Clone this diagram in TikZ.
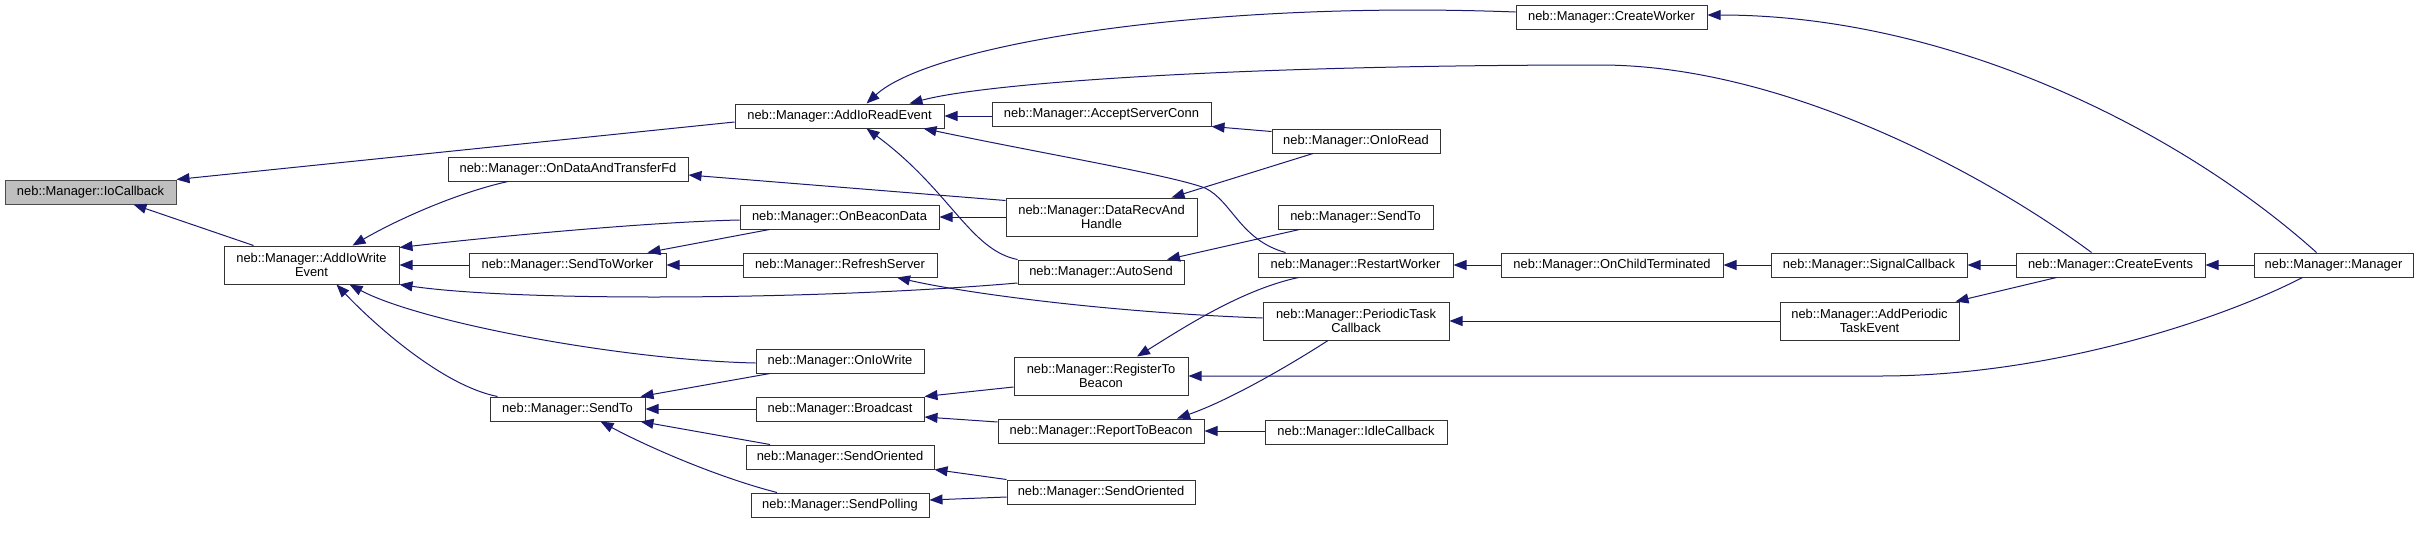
\documentclass[tikz,border=0pt]{standalone}
\usepackage{fontspec}
\setmainfont{Liberation Sans}
\usepackage{tikz}
\usetikzlibrary{arrows.meta,calc}

\definecolor{edgeblue}{HTML}{191970}
\definecolor{rootgray}{HTML}{BFBFBF}

\begin{document}
\begin{tikzpicture}[x=1pt, y=-1pt,
    fn/.style={draw=black!80, fill=white, line width=1pt, inner sep=0pt,
        minimum height=24pt, align=center,
        font=\fontsize{12.9}{14.2}\selectfont},
    fn2/.style={fn, minimum height=38pt},
    root/.style={fn, fill=rootgray, draw=black!70},
    call/.style={draw=edgeblue, line width=1pt,
        {Triangle[length=13pt, width=10pt]}-}]
    \useasboundingbox (0,0) rectangle (2419,552);

    % Column 1 and 2
    \node[root, minimum width=171pt] (ioCallback) at (90.5,192) {neb::Manager::IoCallback};
    \node[fn2, minimum width=175pt] (addIoWrite) at (311.5,265) {neb::Manager::AddIoWrite\\Event};

    % Column 3
    \node[fn, minimum width=240pt] (onDataFd) at (568,169) {neb::Manager::OnDataAndTransferFd};
    \node[fn, minimum width=197pt] (sendToWorker) at (567.5,265) {neb::Manager::SendToWorker};
    \node[fn, minimum width=155pt] (sendToA) at (567.5,409) {neb::Manager::SendTo};

    % Column 4
    \node[fn, minimum width=209pt] (addIoRead) at (839.5,116) {neb::Manager::AddIoReadEvent};
    \node[fn, minimum width=199pt] (onBeaconData) at (839.5,217) {neb::Manager::OnBeaconData};
    \node[fn, minimum width=194pt] (refreshServer) at (840,265) {neb::Manager::RefreshServer};
    \node[fn, minimum width=168pt] (onIoWrite) at (840,361) {neb::Manager::OnIoWrite};
    \node[fn, minimum width=168pt] (broadcast) at (840,409) {neb::Manager::Broadcast};
    \node[fn, minimum width=188pt] (sendOrientedA) at (840,457) {neb::Manager::SendOriented};
    \node[fn, minimum width=178pt] (sendPolling) at (840,505) {neb::Manager::SendPolling};

    % Column 5
    \node[fn, minimum width=219pt] (acceptConn) at (1101.5,114) {neb::Manager::AcceptServerConn};
    \node[fn2, minimum width=191pt] (dataRecv) at (1101.5,217) {neb::Manager::DataRecvAnd\\Handle};
    \node[fn, minimum width=166pt] (autoSend) at (1101,272) {neb::Manager::AutoSend};
    \node[fn2, minimum width=174pt] (registerBeacon) at (1101,376) {neb::Manager::RegisterTo\\Beacon};
    \node[fn, minimum width=206pt] (reportBeacon) at (1101,431) {neb::Manager::ReportToBeacon};
    \node[fn, minimum width=188pt] (sendOrientedB) at (1101,492) {neb::Manager::SendOriented};

    % Column 6
    \node[fn, minimum width=168pt] (onIoRead) at (1356,141) {neb::Manager::OnIoRead};
    \node[fn, minimum width=155pt] (sendToB) at (1355.5,217) {neb::Manager::SendTo};
    \node[fn, minimum width=195pt] (restartWorker) at (1355.5,265) {neb::Manager::RestartWorker};
    \node[fn2, minimum width=186pt] (periodicCb) at (1356,321) {neb::Manager::PeriodicTask\\Callback};
    \node[fn, minimum width=182pt] (idleCb) at (1356,432) {neb::Manager::IdleCallback};

    % Columns 7 to 10
    \node[fn, minimum width=191pt] (createWorker) at (1611.5,17) {neb::Manager::CreateWorker};
    \node[fn, minimum width=222pt] (onChildTerm) at (1612,265) {neb::Manager::OnChildTerminated};
    \node[fn, minimum width=196pt] (signalCb) at (1869,265) {neb::Manager::SignalCallback};
    \node[fn2, minimum width=179pt] (addPeriodic) at (1869.5,321) {neb::Manager::AddPeriodic\\TaskEvent};
    \node[fn, minimum width=189pt] (createEvents) at (2110.5,265) {neb::Manager::CreateEvents};
    \node[fn, minimum width=159pt] (manager) at (2333.5,265) {neb::Manager::Manager};

    % Straight calls along one row
    \foreach \a/\b in {addIoWrite/sendToWorker, sendToWorker/refreshServer,
        onBeaconData/dataRecv, sendToA/broadcast, restartWorker/onChildTerm,
        onChildTerm/signalCb, signalCb/createEvents, createEvents/manager,
        periodicCb/addPeriodic}
        \draw[call] (\a.east) -- (\b.west);
    \draw[call] (addIoRead.east) -- (addIoRead.east -| acceptConn.west);
    \draw[call] (reportBeacon.east) -- (reportBeacon.east -| idleCb.west);

    % Into IoCallback
    \draw[call] (ioCallback.north east) -- ($(addIoRead.west)+(0,6)$);
    \draw[call] ($(ioCallback.south)+(43,0)$) -- ($(addIoWrite.north)+(-58,0)$);

    % Into AddIoWriteEvent
    \draw[call] ($(addIoWrite.north)+(41,0)$) .. controls (400,218) and (460,192) .. ($(onDataFd.south)+(-60,0)$);
    \draw[call] ($(addIoWrite.north east)+(0,2)$) .. controls (500,236) and (650,222) .. ($(onBeaconData.west)+(0,3)$);
    \draw[call] (addIoWrite.south east) .. controls (520,302) and (820,300) .. ($(autoSend.west)+(0,11)$);
    \draw[call] ($(addIoWrite.south)+(38,0)$) .. controls (420,322) and (620,360) .. ($(onIoWrite.west)+(0,2)$);
    \draw[call] ($(addIoWrite.south)+(25,0)$) .. controls (370,320) and (440,385) .. ($(sendToA.north)+(-70,0)$);

    % Into SendToWorker and SendTo
    \draw[call] ($(sendToWorker.north east)+(-19,0)$) -- ($(onBeaconData.south)+(-70,0)$);
    \draw[call] ($(sendToA.north east)+(-5,0)$) -- ($(onIoWrite.south)+(-70,0)$);
    \draw[call] ($(sendToA.south east)+(-5,0)$) -- ($(sendOrientedA.north)+(-70,0)$);
    \draw[call] ($(sendToA.south)+(33,0)$) .. controls (650,448) and (720,478) .. ($(sendPolling.north)+(-63,0)$);

    % Into AddIoReadEvent
    \draw[call] ($(addIoRead.north)+(27,0)$) .. controls (930,45) and (1200,0) .. ($(createWorker.west)+(0,-5)$);
    \draw[call] ($(addIoRead.north)+(70,0)$) .. controls (990,82) and (1250,65) .. (1600,65)
        .. controls (1780,65) and (1980,170) .. ($(createEvents.north)+(-19,0)$);
    \draw[call] ($(addIoRead.south east)+(-21,0)$) .. controls (1050,155) and (1170,175) .. (1205,188)
        .. controls (1232,201) and (1240,240) .. ($(restartWorker.north)+(-70,0)$);
    \draw[call] ($(addIoRead.south)+(27,0)$) .. controls (950,190) and (970,250) .. (autoSend.north west);

    % Middle columns
    \draw[call] (acceptConn.south east) -- ($(onIoRead.north west)+(0,3)$);
    \draw[call] ($(onDataFd.east)+(0,6)$) -- ($(dataRecv.north west)+(0,3)$);
    \draw[call] ($(dataRecv.north)+(70,0)$) -- ($(onIoRead.south)+(-43,0)$);
    \draw[call] ($(autoSend.north)+(66,0)$) -- ($(sendToB.south)+(-56,0)$);
    \draw[call] ($(refreshServer.south)+(57,0)$) .. controls (960,292) and (1100,312) .. ($(periodicCb.west)+(0,-3)$);
    \draw[call] ($(registerBeacon.north)+(36,0)$) .. controls (1180,330) and (1240,290) .. ($(restartWorker.south)+(-57,0)$);
    \draw[call] (broadcast.north east) -- ($(registerBeacon.west)+(0,11)$);
    \draw[call] ($(broadcast.east)+(0,8)$) -- ($(reportBeacon.west)+(0,-9)$);
    \draw[call] ($(reportBeacon.north)+(76,0)$) .. controls (1230,400) and (1290,365) .. ($(periodicCb.south)+(-28,0)$);
    \draw[call] (sendOrientedA.south east) -- (sendOrientedB.north west);
    \draw[call] ($(sendPolling.east)+(0,-5)$) -- ($(sendOrientedB.west)+(0,5)$);

    % Right-hand side
    \draw[call] (registerBeacon.east) -- (1880,376) .. controls (2050,376) and (2220,320) .. ($(manager.south)+(-31,0)$);
    \draw[call] ($(addPeriodic.north east)+(-4,0)$) -- ($(createEvents.south west)+(41,0)$);
    \draw[call] ($(createWorker.east)+(0,-2)$) .. controls (1950,15) and (2180,130) .. ($(manager.north)+(-17,0)$);
\end{tikzpicture}
\end{document}
